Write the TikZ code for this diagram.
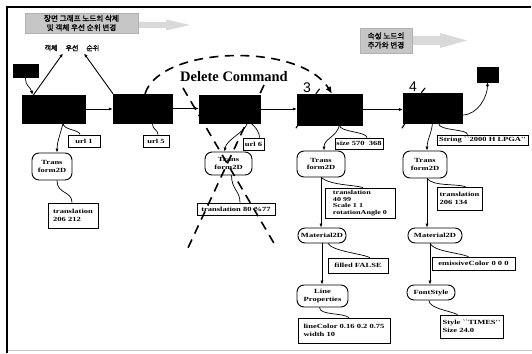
\documentclass[tikz,border=0pt]{standalone}
\usepackage{fontspec}
\setmainfont{Liberation Serif}
\newfontfamily\lblfont{Liberation Serif}[FakeStretch=1.35]
\newfontfamily\korfont{Noto Sans CJK KR}[FakeBold=1.5]
\newfontfamily\numfont{Liberation Sans}
\usetikzlibrary{arrows.meta}

\tikzset{
  blk/.style 2 args={draw, fill=black, inner sep=0pt, minimum width=#1pt, minimum height=#2pt},
  tbox/.style 2 args={draw, line width=0.8pt, fill=white, inner sep=0pt,
    minimum width=#1pt, minimum height=#2pt, align=left,
    font=\lblfont\bfseries\fontsize{6.3}{7.6}\selectfont},
  rbox/.style 2 args={draw, line width=0.9pt, fill=white, rounded corners=7pt, inner sep=0pt,
    minimum width=#1pt, minimum height=#2pt, align=center,
    font=\lblfont\bfseries\fontsize{6.3}{7.6}\selectfont},
  banner/.style 2 args={fill=gray!45, draw=gray!60, inner sep=0pt, minimum width=#1pt,
    minimum height=#2pt, align=center, font=\korfont\fontsize{7.6}{9.2}\selectfont},
  con/.style={line width=0.7pt},
  arr/.style={con, -{Latex[length=4pt,width=3.2pt]}},
  del/.style={line width=1.6pt, dash pattern=on 9pt off 6.5pt},
  tick/.style={line width=1.1pt, line cap=round},
}

\begin{document}
\begin{tikzpicture}[x=1pt,y=-1pt]
\useasboundingbox (0,0) rectangle (532,353);

% page frame
\draw[line width=1.5pt] (6,7) -- (531,7);
\draw[line width=1.9pt] (7,6) -- (7,353);
\draw[gray!45, line width=1pt] (8,350) -- (532,350);

% title banners with their pointers
\fill[gray!30] (138,22) -- (166,22) -- (166,19.5) -- (190,25) -- (166,30.5) -- (166,28) -- (138,28) -- cycle;
\node[banner={113}{20}] (ban1) at (81.5,23) {장면 그래프 노드의 삭제\\및 객체 우선 순위 변경};
\fill[gray!30] (412,36) -- (440,36) -- (440,33) -- (467,40.5) -- (440,48) -- (440,45) -- (412,45) -- cycle;
\node[banner={52}{25}] (ban2) at (386,40.5) {속성 노드의\\추가와 변경};

% priority label
\node[font=\korfont\fontsize{7}{8}\selectfont, inner sep=2pt] (prio) at (72,48)
  {객체\hspace{8pt}우선\hspace{8pt}순위};

% scene graph group nodes
\node[blk={25}{13}] (tagL) at (25.5,71) {};
\node[blk={63}{28}] (box1) at (53.5,109) {};
\node[blk={59}{29}] (box2) at (142.5,108.5) {};
\node[blk={61}{28}] (box3) at (229.5,109) {};
\node[blk={65}{31}] (box4) at (329.5,109.5) {};
\node[blk={59}{30}] (box5) at (432.5,108) {};
\node[blk={21}{15}] (tagR) at (487.5,74.5) {};

% step numbers
\node[font=\numfont\fontsize{14}{14}\selectfont, inner sep=0pt] (n3) at (307,88) {3};
\node[font=\numfont\fontsize{14}{14}\selectfont, inner sep=0pt] (n4) at (413,87) {4};
\draw[tick] (316,93.5) -- (319.5,89);
\draw[tick] (296,128) -- (299,123.5);
\draw[tick] (421.5,92.5) -- (425,88);
\draw[tick] (402,128) -- (405,123.5);

% leaf value boxes
\node[tbox={32}{12}] (url1) at (84,141) {url 1};
\node[tbox={26}{12}] (url5) at (156,141) {url 5};
\node[tbox={21}{12}] (url6) at (253.5,144) {url 6};
\node[tbox={50}{25}] (tr1) at (73,215.5) {translation\\206 212};
\node[tbox={78}{12}] (tr3) at (236,209) {translation 80 \%77};
\node[tbox={48}{11}] (size) at (359,143.5) {size 570\ \ 368};
\node[tbox={70}{30}, font=\lblfont\bfseries\fontsize{6}{6.8}\selectfont] (tr4) at (360,203)
  {translation\\40 99\\Scale 1 1\\rotationAngle 0};
\node[tbox={60}{15}] (filled) at (358,265.5) {filled FALSE};
\node[tbox={92}{25}] (lc) at (344,330.5) {lineColor 0.16 0.2 0.75\\width 10};
\node[tbox={91}{10}] (str) at (482.5,140) {String ``2000 H LPGA''};
\node[tbox={45}{23}] (tr5) at (459.5,198.5) {translation\\206 134};
\node[tbox={83}{13}] (em) at (473.5,263.5) {emissiveColor 0 0 0};
\node[tbox={63}{23}] (sty) at (471.5,326.5) {Style ``TIMES''\\Size 24.0};

% attribute nodes
\node[rbox={40}{27}] (T1) at (52,166.5) {Trans\\form2D};
\node[rbox={47}{23}] (T3) at (228.5,163.5) {Trans\\form2D};
\node[rbox={48}{26}] (T4) at (321,164) {Trans\\form2D};
\node[rbox={48}{15}] (M4) at (322,235.5) {Material2D};
\node[rbox={51}{22}] (LP) at (322.5,296) {Line\\Properties};
\node[rbox={44}{27}] (T5) at (425,164.5) {Trans\\form2D};
\node[rbox={54}{15}] (M5) at (435,235.5) {Material2D};
\node[rbox={48}{15}] (FS) at (431,292.5) {FontStyle};

% sibling order
\draw[arr] (box1.east) -- (box1.east -| box2.west);
\draw[arr] (box2.east) -- (box2.east -| box3.west);
\draw[arr] (box3.east) -- (box3.east -| box4.west);
\draw[arr] (box4.east) -- (box4.east -| box5.west);
\draw[arr] (tagL.south) .. controls +(0,9) and +(-2,-8) .. ([xshift=-21pt]box1.north);
\draw[arr] ([yshift=-7pt]box5.east) .. controls +(16,0) and +(0,14) .. (tagR.south);

% priority arrows
\draw[arr, line width=0.9pt] ([xshift=-20pt]box1.north) -- ([xshift=-9pt]prio.south);
\draw[arr, line width=0.9pt] ([xshift=-29.5pt]box2.north) -- ([xshift=12pt]prio.south);

% children of each group node
\draw[con] ([xshift=9.5pt]box1.south) .. controls +(0,7) and +(0,-5) .. ([xshift=-4pt]url1.north);
\draw[arr] ([xshift=9.5pt]box1.south) .. controls +(-3,12) and +(0,-10) .. ([xshift=5pt]T1.north);
\draw[con] ([xshift=5pt]T1.south) .. controls +(0,14) and +(0,-12) .. ([xshift=-1pt]tr1.north);

\draw[con] ([xshift=10pt]box2.south) .. controls +(0,7) and +(0,-5) .. ([xshift=2pt]url5.north);

\draw[con] ([xshift=18pt]box3.south) .. controls +(0,-4) and +(0,-9) .. ([xshift=6pt]url6.north);
\draw[arr] ([xshift=18pt]box3.south) .. controls +(-4,10) and +(2,-12) .. ([xshift=-4pt]T3.north);
\draw[con] ([xshift=3pt]T3.south) .. controls +(0,14) and +(0,-12) .. ([xshift=4pt]tr3.north);

\draw[con] ([xshift=10pt]box4.south) .. controls +(0,7) and +(0,-6) .. ([xshift=8pt]size.north);
\draw[arr] ([xshift=10pt]box4.south) .. controls +(-3,12) and +(0,-12) .. ([xshift=3pt]T4.north);
\draw[con] (T4.south) .. controls +(10,8) and +(-10,-3) .. ([xshift=3pt]tr4.north);
\draw[arr] (T4.south) -- (T4.south |- M4.north);
\draw[con] ([xshift=6pt]M4.south) .. controls +(5,8) and +(-8,-4) .. ([xshift=12pt]filled.north);
\draw[arr] (M4.south) -- (M4.south |- LP.north);
\draw[con] ([xshift=-3pt]LP.south) .. controls +(0,8) and +(-6,-5) .. ([xshift=5pt]lc.north);

\draw[con] ([xshift=6pt]box5.south) .. controls +(0,8) and +(0,-6) .. ([xshift=-15pt]str.north);
\draw[arr] (box5.south) .. controls +(-1,10) and +(0,-10) .. ([xshift=2pt]T5.north);
\draw[con] ([xshift=2pt]T5.south) .. controls +(6,8) and +(-10,-3) .. ([xshift=6pt]tr5.north);
\draw[arr] ([xshift=2pt]T5.south) -- ([xshift=2pt]T5.south |- M5.north);
\draw[con] ([xshift=-5pt]M5.south) .. controls +(4,8) and +(-10,-4) .. ([xshift=-5pt]em.north);
\draw[arr] ([xshift=-5pt]M5.south) -- ([xshift=-5pt]M5.south |- FS.north);
\draw[con] ([xshift=-2pt]FS.south) .. controls +(0,8) and +(-8,-4) .. ([xshift=-14pt]sty.north);

% delete command: moved child and crossed-out node
\node[font=\bfseries\fontsize{14.5}{15}\selectfont, inner sep=0pt] (delcmd) at (234,77) {Delete Command};
\draw[del, -{Latex[length=7pt,width=6pt]}] ([xshift=2.5pt]box2.north)
  .. controls +(15,-48) and +(-32,-52) .. ([xshift=2.5pt]box4.north);
\coordinate (xa1) at (183,88);
\coordinate (xa2) at (275,245);
\coordinate (xb1) at (264,85);
\coordinate (xb2) at (187,250);
\draw[del] (xa1) -- (xa2);
\draw[del] (xb1) -- (xb2);
\end{tikzpicture}
\end{document}
